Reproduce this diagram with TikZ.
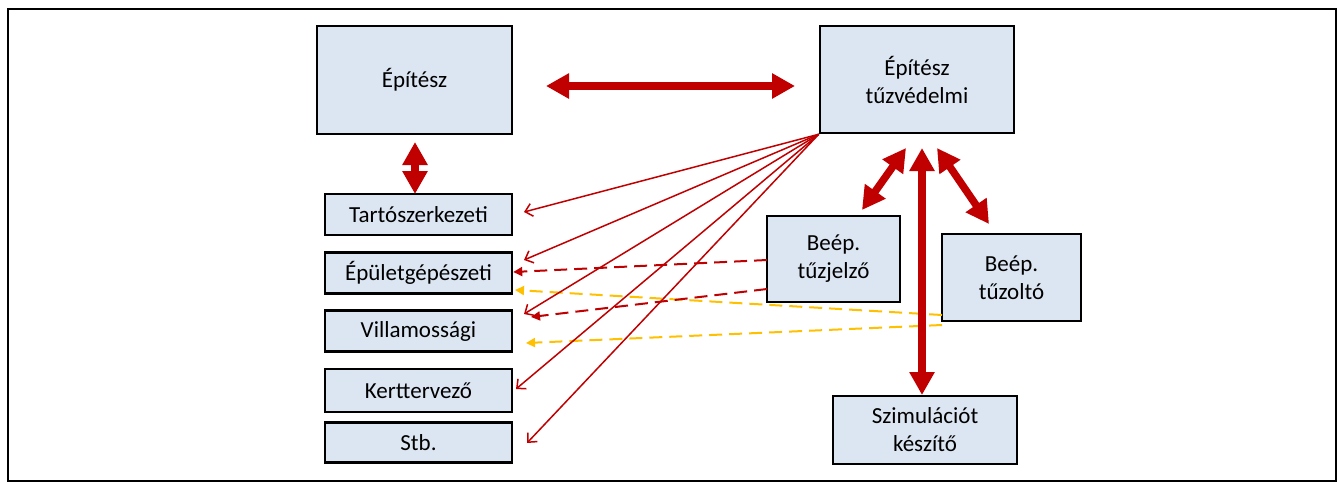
\documentclass[tikz,border=0pt]{standalone}
\usepackage{fontspec}
\setmainfont{Carlito}
\usetikzlibrary{arrows.meta}
\definecolor{boxfill}{HTML}{DCE6F2}
\definecolor{dred}{HTML}{C00000}
\definecolor{amber}{HTML}{FFC000}
\begin{document}
\begin{tikzpicture}[x=1pt,y=-1pt,
  box/.style={draw=black, line width=2.5pt, fill=boxfill, align=center, inner sep=0pt,
    font=\fontsize{23}{28}\selectfont},
  bigarrow/.style={draw=dred, line width=7.5pt,
    {Triangle[width=24pt,length=23pt]}-{Triangle[width=24pt,length=23pt]}},
  bigone/.style={draw=dred, line width=7.5pt, -{Triangle[width=24pt,length=23pt]}},
  fan/.style={draw=dred, line width=1.5pt, -{Straight Barb[length=7pt,width=13pt,line width=1.5pt]}},
  reddash/.style={draw=dred, line width=2pt, dash pattern=on 13pt off 7pt,
    -{Triangle[length=9pt,width=9pt]}},
  yeldash/.style={draw=amber, line width=2pt, dash pattern=on 13pt off 7pt,
    -{Triangle[length=9pt,width=9pt]}}]
\useasboundingbox (0,0) rectangle (1338,482);
\draw[line width=2pt, draw=black] (8,9) rectangle (1336,481);

% boxes
\node[box, minimum width=195pt, minimum height=108pt] (epitesz) at (414.5,80) {Építész};
\node[box, minimum width=194pt, minimum height=107pt] (tuzv) at (917,79.5) {Építész\\tűzvédelmi};
\node[box, minimum width=187pt, minimum height=41pt] (tarto) at (418.5,214.5) {Tartószerkezeti};
\node[box, minimum width=187pt, minimum height=41pt] (epulet) at (418.5,273) {Épületgépészeti};
\node[box, minimum width=187pt, minimum height=41pt] (villa) at (418.5,331) {Villamossági};
\node[box, minimum width=187pt, minimum height=43pt] (kert) at (418.5,390.5) {Kerttervező};
\node[box, minimum width=187pt, minimum height=40pt] (stb) at (418.5,442.5) {Stb.};
\node[box, minimum width=133pt, minimum height=86pt] (jelzo) at (833.5,259) {Beép.\\tűzjelző};
\node[box, minimum width=139pt, minimum height=87pt] (olto) at (1011.5,277.5) {Beép.\\tűzoltó};
\node[box, minimum width=184pt, minimum height=68pt] (szim) at (925,430) {Szimulációt\\készítő};

% free ends of the thick arrows
\coordinate (hA) at (546,86);
\coordinate (hB) at (795,86);
\coordinate (vA) at (415,142);
\coordinate (vB) at (415,194);
\coordinate (dlA) at (906,148);
\coordinate (dlB) at (862,210);
\coordinate (vvA) at (922,148);
\coordinate (vvB) at (922,395);
\coordinate (drA) at (937,148);
\coordinate (drB) at (989,224);

\draw[bigarrow] (hA) -- (hB);
\draw[bigarrow] (vA) -- (vB);
\draw[bigarrow] (dlA) -- (dlB);
\draw[bigarrow] (drA) -- (drB);

% ends of thin arrows
\coordinate (fT) at (524,212);
\coordinate (fE) at (524,260);
\coordinate (fV) at (524,314);
\coordinate (fK) at (516,389);
\coordinate (fS) at (527,443);
\coordinate (rdA) at (767,260);
\coordinate (rdB) at (767,289);
\coordinate (rdEndB) at (531,317);
\coordinate (ydA) at (942,315);
\coordinate (ydB) at (942,325);
\coordinate (ydEndA) at (515,290);
\coordinate (ydEndB) at (526,343);

\draw[yeldash] (ydA) -- (ydEndA);
\draw[yeldash] (ydB) -- (ydEndB);
\draw[reddash] (rdA) -- (epulet.east |- 0,272);
\draw[reddash] (rdB) -- (rdEndB);

\draw[fan] (tuzv.south west) -- (fT);
\draw[fan] (tuzv.south west) -- (fE);
\draw[fan] (tuzv.south west) -- (fV);
\draw[fan] (tuzv.south west) -- (fK);
\draw[fan] (tuzv.south west) -- (fS);

\draw[bigarrow] (vvA) -- (vvB);
\end{tikzpicture}
\end{document}
